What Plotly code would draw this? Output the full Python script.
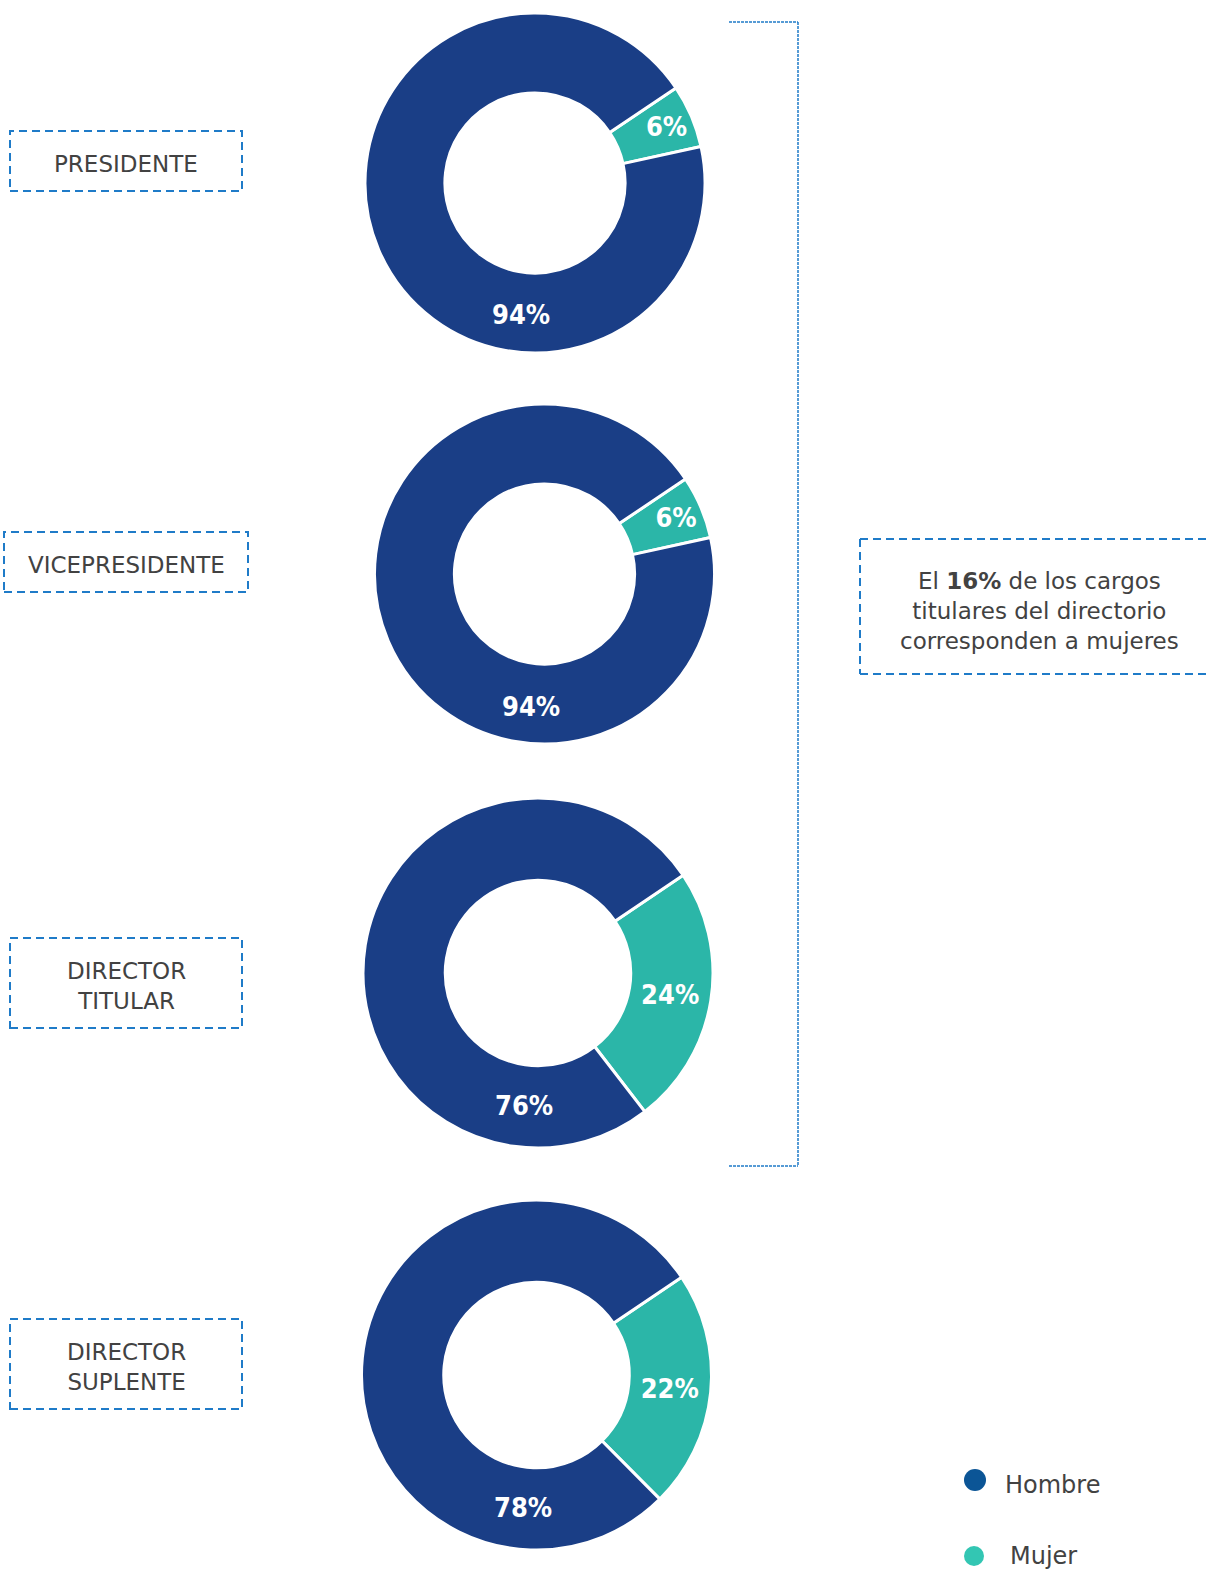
import plotly.graph_objects as go

W, H = 1209, 1572

# ---- data ----
categories = ["PRESIDENTE", "VICEPRESIDENTE", "DIRECTOR<br>TITULAR", "DIRECTOR<br>SUPLENTE"]
genders = ["Mujer", "Hombre"]
mujer_pct = [6, 6, 24, 22]
hombre_pct = [94, 94, 76, 78]
summary_text = "El <b>16%</b> de los cargos<br>titulares del directorio<br>corresponden a mujeres"

# ---- layout (pixel geometry) ----
pie_centers = [(535, 183), (544.5, 574), (538, 973), (536.5, 1375)]
pie_radius = [170, 170, 175, 175]
label_boxes = [(10, 131, 242, 191), (4, 532, 248, 592), (10, 938, 242, 1028), (10, 1319, 242, 1409)]
hombre_label_offset = (-14, 132)
text_nudge = 3

C_HOMBRE = "#1a3e86"
C_MUJER = "#2bb6a8"
C_DASH = "#1f7bc8"
C_TEXT = "#424242"
PCT_FONT = "DejaVu Sans Condensed"
TXT_FONT = "DejaVu Sans"
PCT_SIZE = 27


def px(x):
    return x / W


def py(y):
    return 1 - y / H


fig = go.Figure()
annotations = []
shapes = []

for i, cat in enumerate(categories):
    cx, cy = pie_centers[i]
    r = pie_radius[i]
    fig.add_trace(go.Pie(
        labels=genders,
        values=[mujer_pct[i], hombre_pct[i]],
        hole=0.53,
        sort=False,
        direction="clockwise",
        rotation=56,
        marker=dict(colors=[C_MUJER, C_HOMBRE], line=dict(color="white", width=3)),
        texttemplate=["%{value}%", ""],
        textposition=["inside", "none"],
        insidetextorientation="horizontal",
        textfont=dict(family=PCT_FONT, size=PCT_SIZE, color="white", weight="bold"),
        hoverinfo="label+percent",
        showlegend=False,
        domain=dict(x=[px(cx - r), px(cx + r)], y=[py(cy + r), py(cy - r)]),
    ))
    # Hombre label
    annotations.append(dict(
        x=px(cx + hombre_label_offset[0]), y=py(cy + hombre_label_offset[1]),
        xref="paper", yref="paper", text=f"{hombre_pct[i]}%", showarrow=False,
        xanchor="center", yanchor="middle",
        font=dict(family=PCT_FONT, size=PCT_SIZE, color="white", weight="bold"),
    ))
    # category label box
    x0, y0, x1, y1 = label_boxes[i]
    shapes.append(dict(type="rect", xref="paper", yref="paper",
                       x0=px(x0), x1=px(x1), y0=py(y1), y1=py(y0),
                       line=dict(color=C_DASH, width=2, dash="8px,5px")))
    annotations.append(dict(
        x=px((x0 + x1) / 2), y=py((y0 + y1) / 2 + text_nudge), xref="paper", yref="paper",
        text=cat, showarrow=False, xanchor="center", yanchor="middle",
        font=dict(family=TXT_FONT, size=23, color=C_TEXT),
    ))

# bracket
for (xa, ya, xb, yb) in [(729, 22, 798, 22), (798, 22, 798, 1166), (729, 1166, 798, 1166)]:
    shapes.append(dict(type="line", xref="paper", yref="paper",
                       x0=px(xa), y0=py(ya), x1=px(xb), y1=py(yb),
                       line=dict(color=C_DASH, width=1.5, dash="3px,1px")))

# summary box (open on the right)
for (xa, ya, xb, yb) in [(860, 539, 1209, 539), (860, 539, 860, 674), (860, 674, 1209, 674)]:
    shapes.append(dict(type="line", xref="paper", yref="paper",
                       x0=px(xa), y0=py(ya), x1=px(xb), y1=py(yb),
                       line=dict(color=C_DASH, width=2, dash="8px,5px")))
annotations.append(dict(
    x=px(1039), y=py(611), xref="paper", yref="paper", text=summary_text,
    showarrow=False, xanchor="center", yanchor="middle", align="center",
    font=dict(family=TXT_FONT, size=23, color=C_TEXT),
))

# legend
legend_items = [("Hombre", "#0b5596", (975, 1480), 11, 1003, 1485),
                ("Mujer", "#33c6b3", (974, 1556), 10, 1008, 1556)]
for name, col, (lx, ly), rr, tx, ty in legend_items:
    shapes.append(dict(type="circle", xref="paper", yref="paper",
                       x0=px(lx - rr), x1=px(lx + rr), y0=py(ly + rr), y1=py(ly - rr),
                       fillcolor=col, line=dict(width=0)))
    annotations.append(dict(
        x=px(tx), y=py(ty), xref="paper", yref="paper", text=name, showarrow=False,
        xanchor="left", yanchor="middle", font=dict(family=TXT_FONT, size=24, color=C_TEXT),
    ))

fig.update_layout(
    width=W, height=H, autosize=False,
    margin=dict(l=0, r=0, t=0, b=0),
    paper_bgcolor="white", plot_bgcolor="white",
    shapes=shapes, annotations=annotations,
)

fig.write_html("out.html", config={"displayModeBar": False},
               post_script="document.body.style.margin='0px';")
